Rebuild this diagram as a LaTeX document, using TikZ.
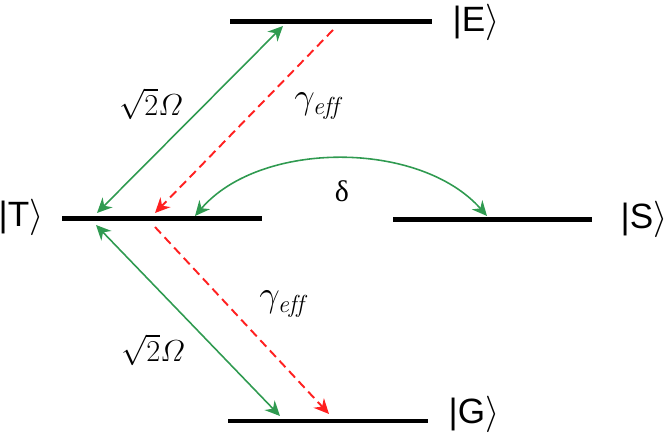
\documentclass[tikz,border=0pt]{standalone}
\usepackage{amsmath}
\usepackage{fontspec}
\usetikzlibrary{arrows.meta}
\newfontfamily\ketfont{Liberation Sans}
\newfontfamily\labfont{Liberation Serif}
\definecolor{pump}{HTML}{2F9A50}
\definecolor{decay}{HTML}{FF2020}
\tikzset{
  lvl/.style   = {line width=0.1cm, draw=black},
  ket/.style   = {font=\ketfont\fontsize{20}{24}\selectfont, inner sep=0pt},
  lab/.style   = {font=\fontsize{17}{20}\selectfont, inner sep=0pt},
  rate/.style  = {font=\fontsize{20}{24}\selectfont, inner sep=0pt},
  drive/.style = {{Stealth[length=3mm,width=2.8mm]}-{Stealth[length=3mm,width=2.8mm]},
                  line width=0.9pt, draw=pump},
  loss/.style  = {-{Stealth[length=3mm,width=2.8mm]}, line width=1.1pt, draw=decay,
                  dash pattern=on 5pt off 3pt},
}
\begin{document}
\begin{tikzpicture}[x=0.02cm, y=-0.02cm]
  \useasboundingbox (0,0) rectangle (666,435);

  % energy levels
  \coordinate (El) at (230,22);  \coordinate (Er) at (432,22);
  \coordinate (Tl) at (62,219);  \coordinate (Tr) at (262,219);
  \coordinate (Sl) at (393,220); \coordinate (Sr) at (592,220);
  \coordinate (Gl) at (228,421); \coordinate (Gr) at (428,421);
  \draw[lvl] (El) -- (Er);
  \draw[lvl] (Tl) -- (Tr);
  \draw[lvl] (Sl) -- (Sr);
  \draw[lvl] (Gl) -- (Gr);

  \node[ket] (ketE) at (476,22)  {|E$\rangle$};
  \node[ket] (ketT) at (21,217)  {|T$\rangle$};
  \node[ket] (ketS) at (644,219) {|S$\rangle$};
  \node[ket] (ketG) at (474,414) {|G$\rangle$};

  % arrow ends
  \coordinate (upE)  at (283,26);  \coordinate (upT)  at (97,213);
  \coordinate (dkE)  at (333,30);  \coordinate (dkT)  at (155,213);
  \coordinate (loT)  at (96,225);  \coordinate (loG)  at (280,416);
  \coordinate (dgT)  at (155,227); \coordinate (dgG)  at (329,414);
  \coordinate (dT)   at (195,216); \coordinate (dS)   at (487,216);

  \draw[drive] (upT) -- (upE);
  \draw[loss]  (dkE) -- (dkT);
  \draw[drive] (loT) -- (loG);
  \draw[loss]  (dgT) -- (dgG);
  \draw[drive] (dT) .. controls (260,140) and (420,140) .. (dS);

  \node[lab]  (rabiU) at (151,104) {$\sqrt{2}\varOmega$};
  \node[rate] (gamU)  at (317,106) {$\gamma_{\mathit{eff}}$};
  \node[lab]  (det)   at (342,191) {\labfont δ};
  \node[rate] (gamL)  at (282,304) {$\gamma_{\mathit{eff}}$};
  \node[lab]  (rabiL) at (153,350) {$\sqrt{2}\varOmega$};
\end{tikzpicture}
\end{document}
